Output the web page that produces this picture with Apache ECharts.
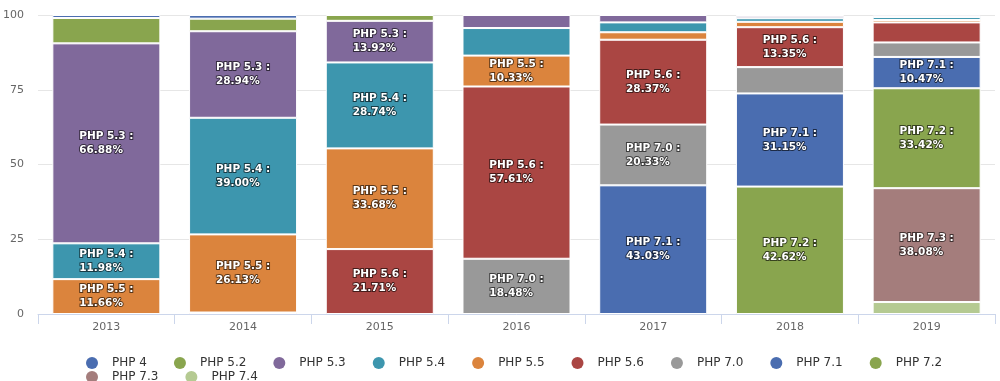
<!DOCTYPE html>
<html>
<head>
<meta charset="utf-8">
<script src="https://cdn.jsdelivr.net/npm/echarts@6/dist/echarts.min.js"></script>
<style>html,body{margin:0;padding:0;background:#fff}#c{width:1000px;height:381px}</style>
</head>
<body>
<div id="c"></div>
<script>
const years = ['2013','2014','2015','2016','2017','2018','2019'];
const yTicks = [0, 25, 50, 75, 100];
const php4  = [1.00, 1.23, null, null, null, null, null];
const php52 = [8.48, 4.20, 1.95, null, null, 0.28, null];
const php53 = [66.88, 28.94, 13.92, 4.36, 2.47, 0.80, 0.60];
const php54 = [11.98, 39.00, 28.74, 9.22, 3.30, 1.20, 1.00];
const php55 = [11.66, 26.13, 33.68, 10.33, 2.50, 1.80, 0.80];
const php56 = [null, 0.50, 21.71, 57.61, 28.37, 13.35, 6.70];
const php70 = [null, null, null, 18.48, 20.33, 8.80, 4.85];
const php71 = [null, null, null, null, 43.03, 31.15, 10.47];
const php72 = [null, null, null, null, null, 42.62, 33.42];
const php73 = [null, null, null, null, null, null, 38.08];
const php74 = [null, null, null, null, null, null, 4.00];

const seriesDefs = [
  ['PHP 4', php4, '#4a6db0'],
  ['PHP 5.2', php52, '#89a54e'],
  ['PHP 5.3', php53, '#80699b'],
  ['PHP 5.4', php54, '#3d96ae'],
  ['PHP 5.5', php55, '#db843d'],
  ['PHP 5.6', php56, '#aa4643'],
  ['PHP 7.0', php70, '#999999'],
  ['PHP 7.1', php71, '#4a6db0'],
  ['PHP 7.2', php72, '#89a54e'],
  ['PHP 7.3', php73, '#a47d7c'],
  ['PHP 7.4', php74, '#b5ca92']
];

const FONT = 'DejaVu Sans';
const series = seriesDefs.slice().reverse().map(([name, data, color]) => ({
  name, type: 'bar', stack: 'all', data,
  barWidth: '79%',
  itemStyle: { color, borderColor: '#ffffff', borderWidth: 1 },
  label: {
    show: true, position: 'inside',
    formatter: p => (p.value >= 10 ? '{a|' + p.seriesName + ' :}\n{a|' + p.value.toFixed(2) + '%}' : ''),
    rich: {
      a: { align: 'left', color: '#ffffff', fontFamily: FONT, fontWeight: 'bold', fontSize: 10.5,
           lineHeight: 14, textBorderColor: 'rgba(0,0,0,0.6)', textBorderWidth: 2 }
    }
  },
  emphasis: { disabled: true }
}));

const legendCommon = {
  orient: 'horizontal', left: 81, itemWidth: 30, itemHeight: 12, itemGap: 27,
  icon: 'circle', symbolKeepAspect: true,
  itemStyle: { borderWidth: 0 },
  textStyle: { color: '#333333', fontSize: 12, fontFamily: FONT },
  selectedMode: false
};

const chart = echarts.init(document.getElementById('c'), null, { renderer: 'canvas' });
chart.setOption({
  animation: false,
  grid: { left: 36, right: 5, top: 15, bottom: 67, containLabel: false },
  legend: [
    Object.assign({}, legendCommon, { top: 352, data: seriesDefs.slice(0, 9).map(d => d[0]) }),
    Object.assign({}, legendCommon, { top: 366, data: seriesDefs.slice(9).map(d => d[0]) })
  ],
  xAxis: {
    type: 'category', data: years,
    axisLine: { lineStyle: { color: '#ccd6eb' } },
    axisTick: { show: true, length: 10, lineStyle: { color: '#ccd6eb' } },
    axisLabel: { color: '#666666', fontSize: 11, fontFamily: FONT, margin: 8 }
  },
  yAxis: {
    type: 'value', min: yTicks[0], max: yTicks[yTicks.length - 1], interval: 25,
    axisLine: { show: false }, axisTick: { show: false },
    splitLine: { lineStyle: { color: '#e6e6e6' } },
    axisLabel: { color: '#666666', fontSize: 11, fontFamily: FONT, margin: 14 }
  },
  series
});
</script>
</body>
</html>
